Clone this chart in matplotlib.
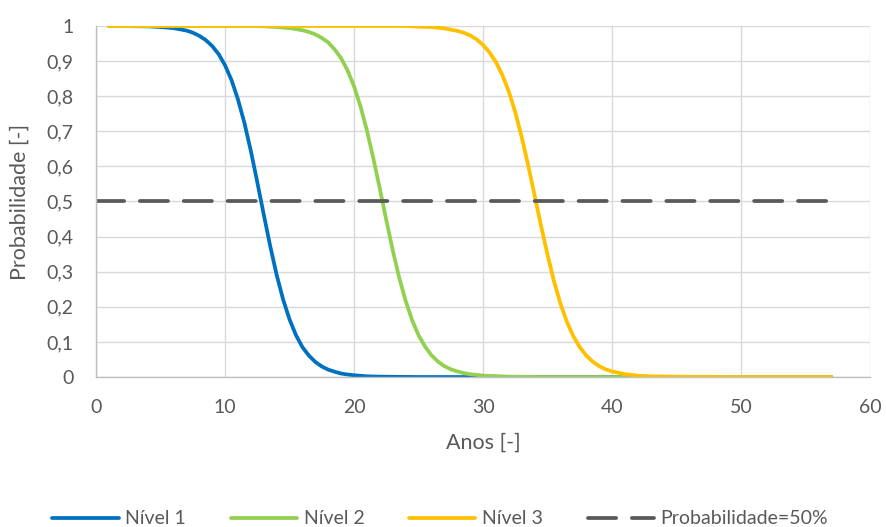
import matplotlib.pyplot as plt
from matplotlib.ticker import FixedLocator, FixedFormatter

# Values
years_1 = [1, 4, 5, 6, 7, 7.5, 8, 8.5, 9, 9.5, 10, 10.5, 11, 11.5, 12, 12.5, 13, 13.5,
           14, 14.5, 15, 15.5, 16, 16.5, 17, 17.5, 18, 18.5, 19, 19.5, 20, 21, 22, 25,
           30, 40, 57]
level_1 = [1.000, 0.999, 0.997, 0.994, 0.987, 0.981, 0.972, 0.960, 0.943, 0.920, 0.888,
           0.846, 0.791, 0.724, 0.644, 0.555, 0.463, 0.373, 0.291, 0.221, 0.164, 0.119,
           0.085, 0.061, 0.043, 0.030, 0.021, 0.015, 0.010, 0.007, 0.005, 0.002, 0.001,
           0.000, 0.000, 0.000, 0.000]

years_2 = [1, 12, 13, 14, 15, 16, 16.5, 17, 17.5, 18, 18.5, 19, 19.5, 20, 20.5, 21, 21.5,
           22, 22.5, 23, 23.5, 24, 24.5, 25, 25.5, 26, 26.5, 27, 27.5, 28, 28.5, 29, 30,
           32, 35, 45, 57]
level_2 = [1.000, 1.000, 0.999, 0.997, 0.994, 0.988, 0.983, 0.976, 0.966, 0.953, 0.933,
           0.908, 0.873, 0.828, 0.771, 0.702, 0.622, 0.536, 0.447, 0.361, 0.283, 0.217,
           0.162, 0.119, 0.087, 0.062, 0.044, 0.031, 0.022, 0.016, 0.011, 0.008, 0.004,
           0.001, 0.000, 0.000, 0.000]

years_3 = [1, 24, 25, 26, 27, 28, 28.5, 29, 29.5, 30, 30.5, 31, 31.5, 32, 32.5, 33, 33.5,
           34, 34.5, 35, 35.5, 36, 36.5, 37, 37.5, 38, 38.5, 39, 39.5, 40, 41, 42, 43,
           45, 50, 57]
level_3 = [1.000, 1.000, 0.998, 0.997, 0.993, 0.986, 0.981, 0.973, 0.962, 0.946, 0.925,
           0.897, 0.860, 0.813, 0.754, 0.683, 0.603, 0.517, 0.430, 0.348, 0.273, 0.209,
           0.157, 0.116, 0.085, 0.061, 0.044, 0.031, 0.022, 0.016, 0.008, 0.004, 0.002,
           0.001, 0.000, 0.000]

threshold_years = [0, 57]
threshold = [0.5, 0.5]

x_ticks = [0, 10, 20, 30, 40, 50, 60]
y_ticks = [0, 0.1, 0.2, 0.3, 0.4, 0.5, 0.6, 0.7, 0.8, 0.9, 1]
y_tick_labels = ["0", "0,1", "0,2", "0,3", "0,4", "0,5", "0,6", "0,7", "0,8", "0,9", "1"]

plt.rcParams["font.family"] = ["Lato", "DejaVu Sans"]

fig = plt.figure(figsize=(8.86, 5.27), dpi=100)
ax = fig.add_axes([0.1084, 0.2846, 0.8736, 0.6661])

lw = 2.7
ax.plot(years_1, level_1, color="#0070C0", lw=lw, label="Nível 1", solid_capstyle="round")
ax.plot(years_2, level_2, color="#92D050", lw=lw, label="Nível 2", solid_capstyle="round")
ax.plot(years_3, level_3, color="#FFC000", lw=lw, label="Nível 3", solid_capstyle="round")
ax.plot(threshold_years, threshold, color="#595959", lw=lw, dashes=(7.5, 4.2),
        dash_capstyle="round", label="Probabilidade=50%")

ax.set_xlim(0, 60)
ax.set_ylim(0, 1)
ax.xaxis.set_major_locator(FixedLocator(x_ticks))
ax.yaxis.set_major_locator(FixedLocator(y_ticks))
ax.yaxis.set_major_formatter(FixedFormatter(y_tick_labels))
ax.grid(True, color="#D9D9D9", lw=1.0)
ax.set_axisbelow(True)
for side in ["top", "right"]:
    ax.spines[side].set_visible(False)
for side in ["left", "bottom"]:
    ax.spines[side].set_color("#BFBFBF")
    ax.spines[side].set_linewidth(1.0)
ax.tick_params(length=0, labelsize=14, colors="#595959")
ax.tick_params(axis="y", pad=16)
ax.tick_params(axis="x", pad=16)

ax.set_xlabel("Anos [-]", fontsize=15.5, color="#595959", labelpad=12)
ax.set_ylabel("Probabilidade [-]", fontsize=15.5, color="#595959", labelpad=12)

fig.legend(loc="lower center", bbox_to_anchor=(0.497, -0.034), ncol=4, frameon=False,
           fontsize=14, handlelength=3.4, columnspacing=2.3, handletextpad=0.35,
           labelcolor="#595959")

fig.savefig("out.png", dpi=100)
